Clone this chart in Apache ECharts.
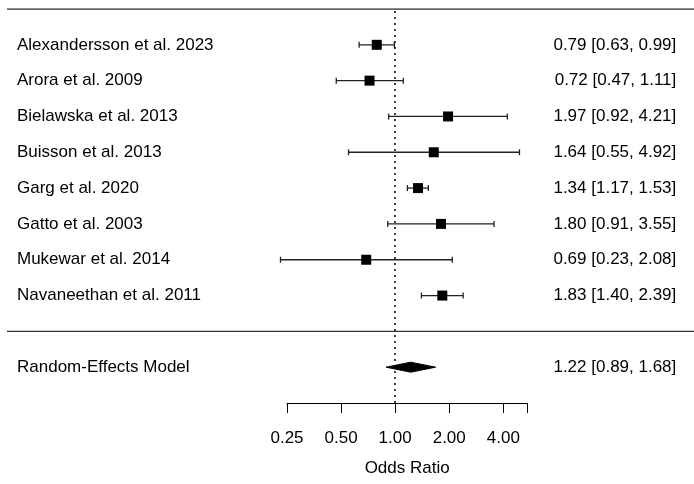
<!DOCTYPE html>
<html>
<head>
<meta charset="utf-8">
<script src="https://cdn.jsdelivr.net/npm/echarts@6/dist/echarts.min.js"></script>
<style>html,body{margin:0;padding:0;background:#fff}#c{width:694px;height:484px}</style>
</head>
<body>
<div id="c"></div>
<script>
const studies = ['Alexandersson et al. 2023','Arora et al. 2009','Bielawska et al. 2013','Buisson et al. 2013','Garg et al. 2020','Gatto et al. 2003','Mukewar et al. 2014','Navaneethan et al. 2011'];
const estimates = [0.79, 0.72, 1.97, 1.64, 1.34, 1.80, 0.69, 1.83];
const lowers    = [0.63, 0.47, 0.92, 0.55, 1.17, 0.91, 0.23, 1.40];
const uppers    = [0.99, 1.11, 4.21, 4.92, 1.53, 3.55, 2.08, 2.39];
const modelName = 'Random-Effects Model';
const modelEst = [1.22];
const modelLow = [0.89];
const modelUp  = [1.68];
const tickValues = [0.25, 0.5, 1, 2, 4];
const tickLabels = ['0.25', '0.50', '1.00', '2.00', '4.00'];
const axisMin = 0.25, axisMax = 5.44;
const xTitle = 'Odds Ratio';

const n = studies.length;
const rowOf = i => n - i;          // study rows n..1
const modelRow = -1;
const fmt = (e,l,u) => e.toFixed(2) + ' [' + l.toFixed(2) + ', ' + u.toFixed(2) + ']';

const leftText = {}, rightText = {};
studies.forEach((s,i) => { leftText[rowOf(i)] = s; rightText[rowOf(i)] = fmt(estimates[i], lowers[i], uppers[i]); });
leftText[modelRow] = modelName;
rightText[modelRow] = fmt(modelEst[0], modelLow[0], modelUp[0]);

const studyData = studies.map((s,i) => [estimates[i], lowers[i], uppers[i], rowOf(i)]);
const modelData = [[modelEst[0], modelLow[0], modelUp[0], modelRow]];

const FONT = 'Liberation Sans, Arial, sans-serif';
const FS = 17;
const chart = echarts.init(document.getElementById('c'), null, {renderer:'canvas'});
chart.setOption({
  animation: false,
  grid: [
    {left: 287, right: 166.7, top: 9, bottom: 81},
    {left: 7, right: 0, top: 9, bottom: 81}
  ],
  xAxis: [
    {
      type: 'log', logBase: 2, min: axisMin, max: axisMax, gridIndex: 0,
      position: 'bottom',
      axisLine: {show: true, onZero: false, lineStyle: {color: '#000', width: 1}},
      axisTick: {show: true, inside: false, length: 10, lineStyle: {color: '#000', width: 1}},
      splitLine: {show: false},
      axisLabel: {
        margin: 27, fontSize: FS, color: '#000', fontFamily: FONT,
        showMinLabel: true, showMaxLabel: true,
        formatter: v => { const k = tickValues.findIndex(t => Math.abs(t - v) < 1e-6); return k >= 0 ? tickLabels[k] : ''; }
      },
      name: xTitle, nameLocation: 'middle', nameGap: 57,
      nameTextStyle: {fontSize: FS, color: '#000', fontFamily: FONT}
    },
    {type: 'value', min: 0, max: 1, gridIndex: 1, show: false}
  ],
  yAxis: [
    {
      type: 'value', min: -2, max: 9, interval: 1, gridIndex: 0, position: 'left',
      axisLine: {show: false}, axisTick: {show: false}, splitLine: {show: false},
      axisLabel: {margin: 270, align: 'left', fontSize: FS, color: '#000', fontFamily: FONT,
        showMinLabel: true, showMaxLabel: true,
        formatter: v => leftText[v] || ''}
    },
    {
      type: 'value', min: -2, max: 9, interval: 1, gridIndex: 0, position: 'right',
      axisLine: {show: false}, axisTick: {show: false}, splitLine: {show: false},
      axisLabel: {margin: 149, align: 'right', fontSize: FS, color: '#000', fontFamily: FONT,
        showMinLabel: true, showMaxLabel: true,
        formatter: v => rightText[v] || ''}
    },
    {type: 'value', min: -2, max: 9, gridIndex: 1, show: false}
  ],
  series: [
    {
      type: 'line', xAxisIndex: 1, yAxisIndex: 2, symbol: 'none', silent: true,
      lineStyle: {color: '#333', width: 1.4},
      data: [[0, n + 1], [1, n + 1]]
    },
    {
      type: 'line', xAxisIndex: 1, yAxisIndex: 2, symbol: 'none', silent: true,
      lineStyle: {color: '#333', width: 1.4},
      data: [[0, 0], [1, 0]]
    },
    {
      type: 'custom', xAxisIndex: 0, yAxisIndex: 0, clip: false,
      data: studyData,
      markLine: {
        silent: true, symbol: 'none', label: {show: false},
        lineStyle: {color: '#000', type: [2, 4], width: 1.5},
        data: [{xAxis: 1}]
      },
      renderItem: (params, api) => {
        const e = api.value(0), l = api.value(1), u = api.value(2), r = api.value(3);
        const pe = api.coord([e, r]), pl = api.coord([l, r]), pu = api.coord([u, r]);
        const cap = 3, half = 5;
        const st = {stroke: '#222', lineWidth: 1.3};
        return {type: 'group', children: [
          {type: 'line', shape: {x1: pl[0], y1: pl[1], x2: pu[0], y2: pu[1]}, style: st},
          {type: 'line', shape: {x1: pl[0], y1: pl[1] - cap, x2: pl[0], y2: pl[1] + cap}, style: st},
          {type: 'line', shape: {x1: pu[0], y1: pu[1] - cap, x2: pu[0], y2: pu[1] + cap}, style: st},
          {type: 'rect', shape: {x: pe[0] - half, y: pe[1] - half, width: 2 * half, height: 2 * half}, style: {fill: '#000'}}
        ]};
      }
    },
    {
      type: 'custom', xAxisIndex: 0, yAxisIndex: 0, clip: false,
      data: modelData,
      renderItem: (params, api) => {
        const e = api.value(0), l = api.value(1), u = api.value(2), r = api.value(3);
        const pe = api.coord([e, r]), pl = api.coord([l, r]), pu = api.coord([u, r]);
        const h = 5;
        return {type: 'polygon', shape: {points: [[pl[0], pl[1]], [pe[0], pe[1] - h], [pu[0], pu[1]], [pe[0], pe[1] + h]]},
          style: {fill: '#000', stroke: '#000', lineWidth: 1}};
      }
    }
  ]
});
</script>
</body>
</html>
